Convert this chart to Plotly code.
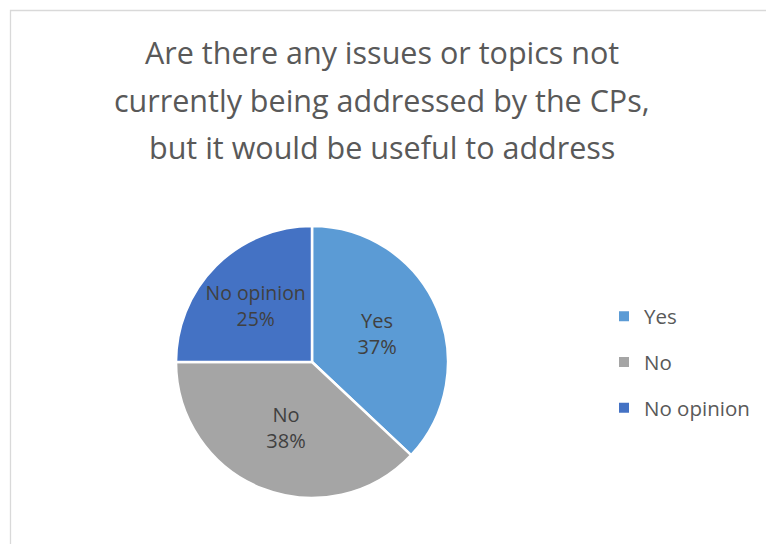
import plotly.graph_objects as go

W, H = 774, 544
OFF = 8  # page offset of the plot in the browser

labels = ["Yes", "No", "No opinion"]
values = [37, 38, 25]
colors = ["#5B9BD5", "#A5A5A5", "#4472C4"]
title_lines = [
    "Are there any issues or topics not",
    "currently being addressed by the CPs,",
    "but it would be useful to address",
]

FONT = "Open Sans"

def px(x):
    return (x - OFF) / W

def py(y):
    return 1 - (y - OFF) / H

fig = go.Figure()

# pie placement (screen pixels)
cx, cy, r = 312, 362, 136
fig.add_trace(go.Pie(
    labels=labels,
    values=values,
    marker=dict(colors=colors, line=dict(color="white", width=2.5)),
    sort=False,
    direction="clockwise",
    rotation=0,
    texttemplate="%{label}<br>%{value}%",
    textposition="inside",
    insidetextorientation="horizontal",
    textfont=dict(family=FONT, size=20, color="#404040"),
    hoverinfo="label+percent",
    showlegend=False,
    domain=dict(x=[px(cx - r), px(cx + r)], y=[py(cy + r), py(cy - r)]),
))

# legend entries
for lab, col in zip(labels, colors):
    fig.add_trace(go.Scatter(
        x=[None], y=[None], mode="markers", name=lab,
        marker=dict(symbol="square", size=10, color=col),
        legendgroup=lab, showlegend=True,
    ))

# title lines
for i, line in enumerate(title_lines):
    fig.add_annotation(
        text=line, xref="paper", yref="paper",
        x=px(382), y=py(52 + i * 47.5),
        xanchor="center", yanchor="middle", showarrow=False,
        font=dict(family=FONT, size=30.5, color="#595959"),
    )

# chart area border
fig.add_shape(type="rect", xref="paper", yref="paper",
              x0=px(10.5), y0=-0.05, x1=1.05, y1=py(10.5),
              line=dict(color="#D9D9D9", width=1.3), fillcolor="rgba(0,0,0,0)", layer="below")

fig.update_layout(
    width=W, height=H,
    margin=dict(l=0, r=0, t=0, b=0),
    paper_bgcolor="white", plot_bgcolor="white",
    xaxis=dict(visible=False), yaxis=dict(visible=False),
    showlegend=True,
    legend=dict(
        x=px(604), y=py(362), xanchor="left", yanchor="middle",
        font=dict(family=FONT, size=20.5, color="#595959"),
        tracegroupgap=16, itemsizing="trace",
        bgcolor="rgba(0,0,0,0)",
    ),
)

fig.write_html("out.html")
